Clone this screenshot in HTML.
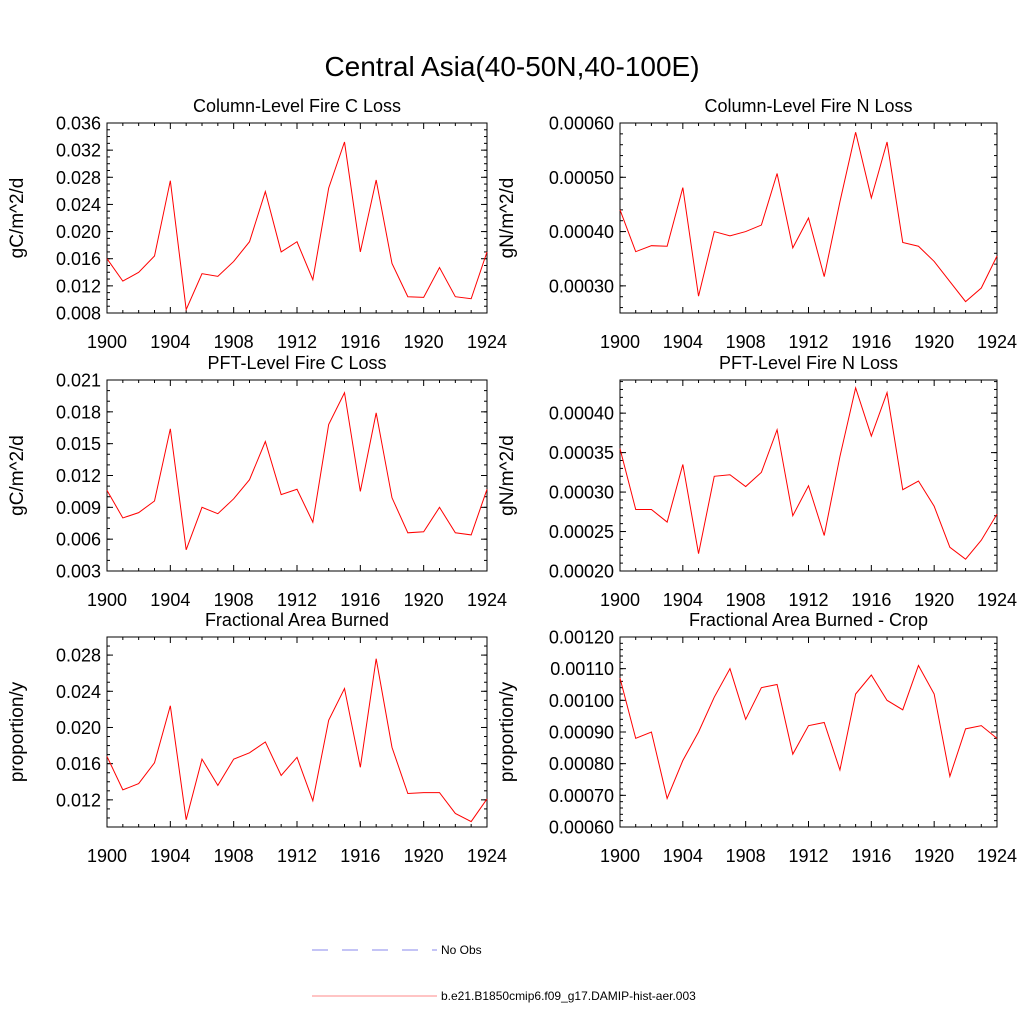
<!DOCTYPE html>
<html><head><meta charset="utf-8"><style>
html,body{margin:0;padding:0;background:#fff;}
svg{display:block;font-family:"Liberation Sans",sans-serif;}
</style></head><body>
<svg id="chart" width="1024" height="1024" viewBox="0 0 1024 1024">
<text x="512" y="76" font-size="28" text-anchor="middle">Central Asia(40-50N,40-100E)</text>
<g>
<line x1="312" y1="950" x2="437" y2="950" stroke="#8888ee" stroke-width="1" stroke-dasharray="16,14"/>
<text x="441" y="954" font-size="12">No Obs</text>
<line x1="312" y1="996" x2="437" y2="996" stroke="#ff8888" stroke-width="1"/>
<text x="441" y="1000" font-size="12">b.e21.B1850cmip6.f09_g17.DAMIP-hist-aer.003</text>
</g>
</svg>
<script>
const years = [1900,1901,1902,1903,1904,1905,1906,1907,1908,1909,1910,1911,1912,1913,1914,1915,1916,1917,1918,1919,1920,1921,1922,1923,1924];
const colCLoss = [0.0160,0.0127,0.0140,0.0164,0.0275,0.0085,0.0138,0.0134,0.0156,0.0185,0.0259,0.0170,0.0185,0.0129,0.0264,0.0332,0.0170,0.0276,0.0153,0.0104,0.0103,0.0147,0.0104,0.0101,0.0170];
const colNLoss = [0.000440,0.000363,0.000374,0.000373,0.000481,0.000281,0.000400,0.000392,0.000400,0.000412,0.000507,0.000370,0.000425,0.000317,0.000455,0.000583,0.000462,0.000565,0.000380,0.000373,0.000345,0.000308,0.000271,0.000296,0.000355];
const pftCLoss = [0.0106,0.0080,0.0085,0.0096,0.0164,0.0050,0.0090,0.0084,0.0098,0.0116,0.0152,0.0102,0.0107,0.0076,0.0168,0.0198,0.0105,0.0179,0.0099,0.0066,0.0067,0.0090,0.0066,0.0064,0.0107];
const pftNLoss = [0.000355,0.000278,0.000278,0.000262,0.000335,0.000222,0.000320,0.000322,0.000307,0.000325,0.000379,0.000270,0.000308,0.000245,0.000345,0.000432,0.000371,0.000426,0.000303,0.000314,0.000282,0.000230,0.000215,0.000239,0.000272];
const areaBurned = [0.0168,0.0131,0.0138,0.0161,0.0224,0.0098,0.0165,0.0136,0.0165,0.0172,0.0184,0.0147,0.0167,0.0119,0.0208,0.0243,0.0156,0.0276,0.0178,0.0127,0.0128,0.0128,0.0105,0.0096,0.0121];
const areaBurnedCrop = [0.00107,0.00088,0.00090,0.00069,0.00081,0.00090,0.00101,0.00110,0.00094,0.00104,0.00105,0.00083,0.00092,0.00093,0.00078,0.00102,0.00108,0.00100,0.00097,0.00111,0.00102,0.00076,0.00091,0.00092,0.00088];
const xTicks = [1900,1904,1908,1912,1916,1920,1924];
const ticks1 = [0.008,0.012,0.016,0.020,0.024,0.028,0.032,0.036];
const ticks2 = [0.00030,0.00040,0.00050,0.00060];
const ticks3 = [0.003,0.006,0.009,0.012,0.015,0.018,0.021];
const ticks4 = [0.00020,0.00025,0.00030,0.00035,0.00040];
const ticks5 = [0.012,0.016,0.020,0.024,0.028];
const ticks6 = [0.00060,0.00070,0.00080,0.00090,0.00100,0.00110,0.00120];

const svg = document.getElementById('chart');
const NS = 'http://www.w3.org/2000/svg';
function mk(tag, attrs, parent){const e=document.createElementNS(NS,tag);for(const k in attrs)e.setAttribute(k,attrs[k]);parent.appendChild(e);return e;}

const panels = [
 {x0:107,x1:487,y0:123,y1:313,ymin:0.008,ymax:0.036,ticks:ticks1,dec:3,minor:0.001,data:colCLoss,title:'Column-Level Fire C Loss',ylab:'gC/m^2/d',name:'column-c-loss'},
 {x0:620,x1:997,y0:123,y1:313,ymin:0.00025,ymax:0.0006,ticks:ticks2,dec:5,minor:0.00002,data:colNLoss,title:'Column-Level Fire N Loss',ylab:'gN/m^2/d',name:'column-n-loss'},
 {x0:107,x1:487,y0:380,y1:571,ymin:0.003,ymax:0.021,ticks:ticks3,dec:3,minor:0.001,data:pftCLoss,title:'PFT-Level Fire C Loss',ylab:'gC/m^2/d',name:'pft-c-loss'},
 {x0:620,x1:997,y0:380,y1:571,ymin:0.0002,ymax:0.000442,ticks:ticks4,dec:5,minor:0.00001,data:pftNLoss,title:'PFT-Level Fire N Loss',ylab:'gN/m^2/d',name:'pft-n-loss'},
 {x0:107,x1:487,y0:637,y1:827,ymin:0.009,ymax:0.030,ticks:ticks5,dec:3,minor:0.001,data:areaBurned,title:'Fractional Area Burned',ylab:'proportion/y',name:'area-burned'},
 {x0:620,x1:997,y0:637,y1:827,ymin:0.0006,ymax:0.0012,ticks:ticks6,dec:5,minor:0.00002,data:areaBurnedCrop,title:'Fractional Area Burned - Crop',ylab:'proportion/y',name:'area-burned-crop'}
];

panels.forEach(p=>{
  const g = mk('g',{},svg);
  
  
  const sx = v => p.x0 + (v-1900)/(24)*(p.x1-p.x0);
  const sy = v => p.y1 - (v-p.ymin)/(p.ymax-p.ymin)*(p.y1-p.y0);
  const frame = mk('rect',{x:p.x0,y:p.y0,width:p.x1-p.x0,height:p.y1-p.y0,fill:'none',stroke:'#000','stroke-width':1},g);
  
  
  for(let yr=1900; yr<=1924; yr++){
    const major = xTicks.includes(yr);
    const L = major?6:3;
    mk('line',{x1:sx(yr),x2:sx(yr),y1:p.y1,y2:p.y1-L,stroke:'#000'},g);
    mk('line',{x1:sx(yr),x2:sx(yr),y1:p.y0,y2:p.y0+L,stroke:'#000'},g);
  }
  xTicks.forEach(t=>{
    const tx = mk('text',{x:sx(t),y:p.y1+35,'font-size':18,'text-anchor':'middle'},g);
    tx.textContent = t;
    
    
  });
  const n0 = Math.ceil(p.ymin/p.minor-1e-6), n1 = Math.floor(p.ymax/p.minor+1e-6);
  for(let i=n0;i<=n1;i++){
    const v=i*p.minor, y=sy(v);
    mk('line',{x1:p.x0,x2:p.x0+3,y1:y,y2:y,stroke:'#000'},g);
    mk('line',{x1:p.x1,x2:p.x1-3,y1:y,y2:y,stroke:'#000'},g);
  }
  p.ticks.forEach(t=>{
    const y=sy(t);
    mk('line',{x1:p.x0,x2:p.x0+6,y1:y,y2:y,stroke:'#000'},g);
    mk('line',{x1:p.x1,x2:p.x1-6,y1:y,y2:y,stroke:'#000'},g);
    const tx = mk('text',{x:p.x0-6,y:y+6.5,'font-size':18,'text-anchor':'end'},g);
    tx.textContent = t.toFixed(p.dec);
    
    
  });
  const title = mk('text',{x:(p.x0+p.x1)/2,y:p.y0-11,'font-size':18,'text-anchor':'middle'},g);
  title.textContent = p.title;
  
  
  const yl = mk('text',{x:0,y:0,'font-size':19,'text-anchor':'middle',transform:`translate(${p.x0 < 300 ? 23 : 513},${(p.y0+p.y1)/2}) rotate(-90)`},g);
  yl.textContent = p.ylab;
  
  
  const pts = p.data.map((v,i)=>sx(years[i]).toFixed(2)+','+sy(v).toFixed(2)).join(' ');
  const line = mk('polyline',{points:pts,fill:'none',stroke:'#ff0000','stroke-width':1},g);
  
  
});
</script>
</body></html>
